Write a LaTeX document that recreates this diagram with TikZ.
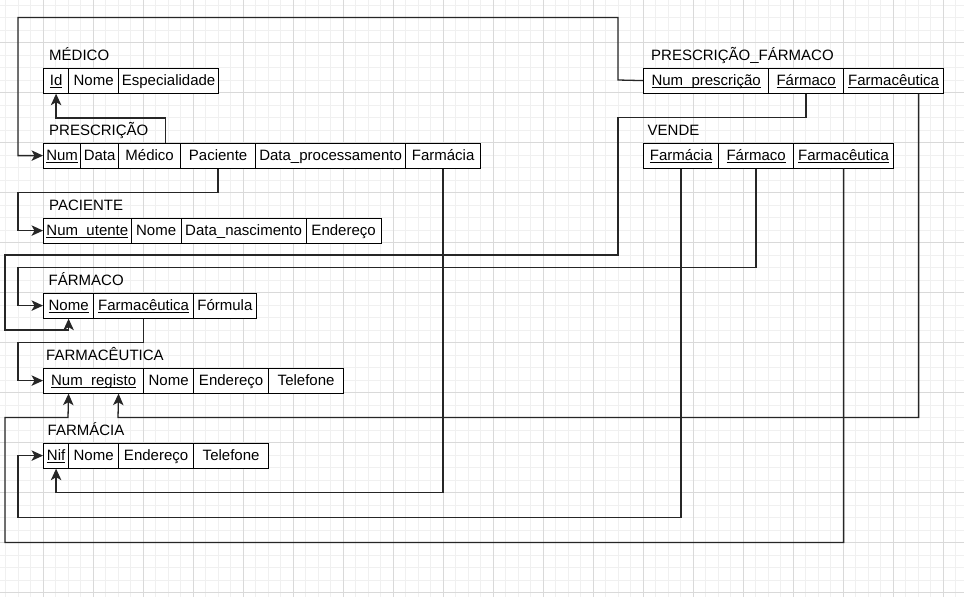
\documentclass[tikz,border=0pt]{standalone}
\usepackage{fontspec}
\setmainfont{Liberation Sans}
\usetikzlibrary{arrows.meta}
\newcommand{\keyattr}[1]{\setbox0=\hbox{#1}\rlap{\rule[-1.7pt]{\wd0}{1pt}}\box0}
\begin{document}
\begin{tikzpicture}[x=1pt,y=-1pt,
  cell/.style={draw=black, line width=1.2pt, fill=white, minimum height=25pt, inner sep=0pt,
    anchor=north west, text height=10.7pt, text depth=0pt, font=\fontsize{15}{18}\selectfont},
  ttl/.style={anchor=base west, inner sep=0pt, font=\fontsize{15}{18}\selectfont},
  conn/.style={draw=black!85, line width=1.3pt},
  arr/.style={conn, -{Stealth[length=11.5pt,width=10.5pt,inset=3pt]}},
  minorgrid/.style={draw=black!6, line width=0.6pt},
  majorgrid/.style={draw=black!15, line width=0.8pt}]
\useasboundingbox (0,0) rectangle (964,597);
\fill[white] (0,0) rectangle (964,597);
% grid
\begin{scope}
\clip (0,0) rectangle (964,597);
\foreach \i in {0,...,77} \draw[minorgrid] ({5.5+12.5*\i},0) -- ({5.5+12.5*\i},597);
\foreach \i in {0,...,47} \draw[minorgrid] (0,{5+12.5*\i}) -- (964,{5+12.5*\i});
\foreach \i in {0,...,19} \draw[majorgrid] ({43+50*\i},0) -- ({43+50*\i},597);
\foreach \i in {0,...,11} \draw[majorgrid] (0,{42.5+50*\i}) -- (964,{42.5+50*\i});
\end{scope}

% MÉDICO
\node[ttl] (tMed) at (49,60.7) {MÉDICO};
\node[cell, minimum width=25pt]  (mId)  at (43,67.5)  {\keyattr{Id}};
\node[cell, minimum width=50pt]  (mNome) at (68,67.5) {Nome};
\node[cell, minimum width=100pt] (mEsp) at (118,67.5) {Especialidade};

% PRESCRIÇÃO
\node[ttl] (tPre) at (49,135.7) {PRESCRIÇÃO};
\node[cell, minimum width=37pt]  (pNum) at (43,142.5)  {\keyattr{Num}};
\node[cell, minimum width=38pt]  (pData) at (80,142.5) {Data};
\node[cell, minimum width=62pt]  (pMed) at (118,142.5) {Médico};
\node[cell, minimum width=75pt]  (pPac) at (180,142.5) {Paciente};
\node[cell, minimum width=150pt] (pDp)  at (255,142.5) {Data\_processamento};
\node[cell, minimum width=75pt]  (pFar) at (405,142.5) {Farmácia};

% PACIENTE
\node[ttl] (tPac) at (49,210.7) {PACIENTE};
\node[cell, minimum width=87.5pt] (paNum)  at (43,217.5)    {\keyattr{Num\_utente}};
\node[cell, minimum width=50pt]   (paNome) at (130.5,217.5) {Nome};
\node[cell, minimum width=125pt]  (paData) at (180.5,217.5) {Data\_nascimento};
\node[cell, minimum width=75pt]   (paEnd)  at (305.5,217.5) {Endereço};

% FÁRMACO
\node[ttl] (tFar) at (48.5,285.7) {FÁRMACO};
\node[cell, minimum width=50pt]   (fNome) at (43,292.5)  {\keyattr{Nome}};
\node[cell, minimum width=100pt]  (fFarm) at (93,292.5)  {\keyattr{Farmacêutica}};
\node[cell, minimum width=62.5pt] (fForm) at (193,292.5) {Fórmula};

% FARMACÊUTICA
\node[ttl] (tFc) at (46,360.7) {FARMACÊUTICA};
\node[cell, minimum width=100pt] (fcNum)  at (43,367.5)  {\keyattr{Num\_registo}};
\node[cell, minimum width=50pt]  (fcNome) at (143,367.5) {Nome};
\node[cell, minimum width=75pt]  (fcEnd)  at (193,367.5) {Endereço};
\node[cell, minimum width=75pt]  (fcTel)  at (268,367.5) {Telefone};

% FARMÁCIA
\node[ttl] (tFa) at (47.5,435.7) {FARMÁCIA};
\node[cell, minimum width=25pt] (faNif)  at (43,442.5)  {\keyattr{Nif}};
\node[cell, minimum width=50pt] (faNome) at (68,442.5)  {Nome};
\node[cell, minimum width=75pt] (faEnd)  at (118,442.5) {Endereço};
\node[cell, minimum width=75pt] (faTel)  at (193,442.5) {Telefone};

% PRESCRIÇÃO_FÁRMACO
\node[ttl] (tPf) at (651,60.7) {PRESCRIÇÃO\_FÁRMACO};
\node[cell, minimum width=125pt] (pfNum)  at (643,67.5) {\keyattr{Num\_prescrição}};
\node[cell, minimum width=75pt]  (pfFar)  at (768,67.5) {\keyattr{Fármaco}};
\node[cell, minimum width=100pt] (pfFarm) at (843,67.5) {\keyattr{Farmacêutica}};

% VENDE
\node[ttl] (tVe) at (647.5,135.7) {VENDE};
\node[cell, minimum width=75pt]  (vFar)  at (643,142.5) {\keyattr{Farmácia}};
\node[cell, minimum width=75pt]  (vFarm) at (718,142.5) {\keyattr{Fármaco}};
\node[cell, minimum width=100pt] (vFc)   at (793,142.5) {\keyattr{Farmacêutica}};

% connectors
\draw[arr] ([xshift=16pt]pMed.north) -- ++(0,-24.5) -| (mId.south);
\draw[arr] (pfNum.west) -- (618,80) -- (618,17.5) -- (18,17.5) |- (pNum.west);
\draw[arr] (pPac.south) |- (18,192.5) |- (paNum.west);
\draw[arr] (vFarm.south) |- (18,267.5) |- (fNome.west);
\draw[arr] (pfFar.south) |- (618,117.5) |- (5,255) |- (fNome.south |- 0,330) -- (fNome.south);
\draw[arr] (fFarm.south) |- (18,342.5) |- (fcNum.west);
\draw[arr] (vFc.south) |- (5,542.5) |- (68,417.5) -- ([xshift=-25pt]fcNum.south);
\draw[arr] ([xshift=25pt]pfFarm.south) |- (118,417.5) -- ([xshift=25pt]fcNum.south);
\draw[arr] (pFar.south) |- (faNif.south |- 0,492.5) -- (faNif.south);
\draw[arr] (vFar.south) |- (18,517.5) |- (faNif.west);
\end{tikzpicture}
\end{document}
